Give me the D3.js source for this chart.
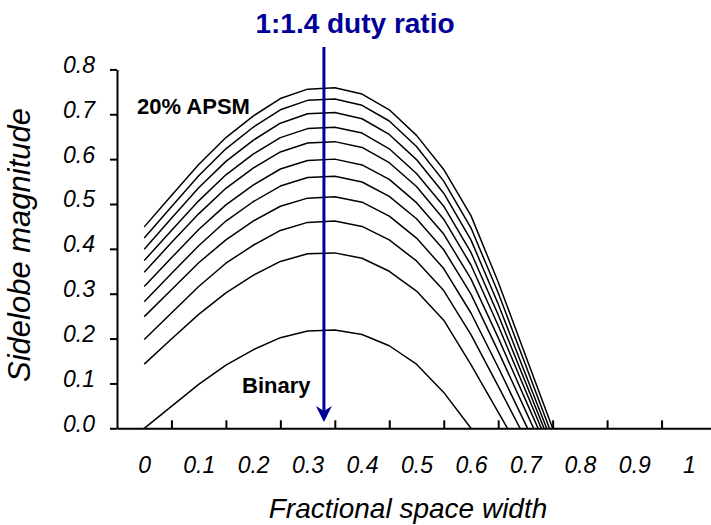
<!DOCTYPE html>
<html>
<head>
<meta charset="utf-8">
<script src="https://cdn.jsdelivr.net/npm/d3@7"></script>
<style>
  html, body { margin: 0; padding: 0; background: #fff; }
  svg { display: block; }
  text { font-family: "Liberation Sans", Arial, Helvetica, sans-serif; }
</style>
</head>
<body>
<svg id="chart" width="711" height="525"></svg>
<script>
// ---------- data ----------
const xValues = [0, 0.05, 0.1, 0.15, 0.2, 0.25, 0.3, 0.35, 0.4, 0.45, 0.5, 0.55, 0.6, 0.65, 0.7, 0.75];
const xTickLabels = ["0", "0.1", "0.2", "0.3", "0.4", "0.5", "0.6", "0.7", "0.8", "0.9", "1"];
const xTickLabelValues = [0, 0.1, 0.2, 0.3, 0.4, 0.5, 0.6, 0.7, 0.8, 0.9, 1.0];
const xTickMarkValues = [0.05, 0.15, 0.25, 0.35, 0.45, 0.55, 0.65, 0.75, 0.85, 0.95];
const yTickValues = [0, 0.1, 0.2, 0.3, 0.4, 0.5, 0.6, 0.7, 0.8];
const yTickLabels = ["0.0", "0.1", "0.2", "0.3", "0.4", "0.5", "0.6", "0.7", "0.8"];

const binary  = [0.000, 0.049, 0.098, 0.141, 0.175, 0.202, 0.217, 0.219, 0.209, 0.184, 0.143, 0.080, 0.000];
const apsm02  = [0.143, 0.199, 0.254, 0.302, 0.341, 0.372, 0.389, 0.391, 0.379, 0.350, 0.306, 0.241, 0.142, 0.036, -0.070];
const apsm04  = [0.198, 0.257, 0.316, 0.368, 0.408, 0.441, 0.459, 0.462, 0.450, 0.420, 0.373, 0.307, 0.209, 0.094, -0.023];
const apsm06  = [0.249, 0.309, 0.369, 0.420, 0.462, 0.495, 0.513, 0.516, 0.504, 0.473, 0.424, 0.356, 0.257, 0.136, 0.010, -0.116];
const apsm08  = [0.282, 0.345, 0.407, 0.462, 0.505, 0.540, 0.559, 0.562, 0.549, 0.517, 0.467, 0.398, 0.299, 0.172, 0.040, -0.093];
const apsm10  = [0.316, 0.380, 0.443, 0.498, 0.542, 0.578, 0.597, 0.600, 0.587, 0.555, 0.503, 0.433, 0.333, 0.202, 0.064, -0.074];
const apsm12  = [0.348, 0.414, 0.478, 0.535, 0.580, 0.616, 0.636, 0.639, 0.626, 0.592, 0.539, 0.466, 0.364, 0.229, 0.085, -0.061];
const apsm14  = [0.374, 0.441, 0.507, 0.565, 0.611, 0.648, 0.668, 0.671, 0.658, 0.623, 0.568, 0.495, 0.392, 0.253, 0.103, -0.048];
const apsm16  = [0.399, 0.468, 0.536, 0.595, 0.642, 0.680, 0.701, 0.704, 0.690, 0.655, 0.599, 0.524, 0.420, 0.277, 0.121, -0.034];
const apsm18  = [0.424, 0.494, 0.563, 0.623, 0.671, 0.710, 0.731, 0.734, 0.720, 0.685, 0.628, 0.551, 0.447, 0.302, 0.142, -0.019];
const apsm20  = [0.449, 0.519, 0.588, 0.648, 0.696, 0.735, 0.756, 0.759, 0.745, 0.710, 0.653, 0.577, 0.474, 0.326, 0.163, 0.000];

const allSeries = [binary, apsm02, apsm04, apsm06, apsm08, apsm10, apsm12, apsm14, apsm16, apsm18, apsm20];

const arrowX = 0.33;
const titleText = "1:1.4 duty ratio";
const xTitle = "Fractional space width";
const yTitle = "Sidelobe magnitude";
const labelTop = "20% APSM";
const labelBottom = "Binary";

// ---------- layout ----------
const svg = d3.select("#chart");
const plotLeft = 117, plotRight = 716, plotTop = 69.4, plotBottom = 428.3;
const navy = "#000099";

const x = d3.scaleLinear().domain([-0.05, 1.05]).range([plotLeft, plotRight]);
const y = d3.scaleLinear().domain([0, 0.8]).range([plotBottom, plotTop]);

svg.append("defs").append("clipPath").attr("id", "plotClip")
  .append("rect").attr("x", plotLeft).attr("y", 0)
  .attr("width", plotRight - plotLeft).attr("height", plotBottom);

// curves
const line = d3.line().x((d, i) => x(xValues[i])).y(d => y(d));
svg.append("g").attr("clip-path", "url(#plotClip)")
  .selectAll("path").data(allSeries).join("path")
  .attr("d", d => line(d))
  .attr("fill", "none").attr("stroke", "#000").attr("stroke-width", 1.5)
  .attr("stroke-linejoin", "round");

// y axis
const yAxis = svg.append("g").attr("transform", `translate(${plotLeft},0)`)
  .call(d3.axisLeft(y).tickValues(yTickValues).tickSizeInner(7).tickSizeOuter(0)
    .tickFormat((d, i) => yTickLabels[i]));
yAxis.select(".domain").attr("stroke", "#000").attr("stroke-width", 2);
yAxis.selectAll(".tick line").attr("stroke", "#000").attr("stroke-width", 2);
yAxis.selectAll(".tick text")
  .attr("x", -22).attr("dy", null).attr("y", 3)
  .attr("font-size", 23).attr("font-style", "italic").attr("fill", "#000")
  .attr("text-anchor", "end").style("font-family", '"Liberation Sans", Arial, sans-serif');

// x axis: tick marks (inside, pointing up)
const xAxisMarks = svg.append("g").attr("transform", `translate(0,${plotBottom})`)
  .call(d3.axisBottom(x).tickValues(xTickMarkValues).tickSizeInner(-8).tickSizeOuter(0).tickFormat(""));
xAxisMarks.select(".domain").attr("stroke", "#000").attr("stroke-width", 2);
xAxisMarks.selectAll(".tick line").attr("stroke", "#000").attr("stroke-width", 2);

// x axis labels
const xAxisLabels = svg.append("g").attr("transform", `translate(0,${plotBottom})`)
  .call(d3.axisBottom(x).tickValues(xTickLabelValues).tickSize(0)
    .tickFormat((d, i) => xTickLabels[i]));
xAxisLabels.select(".domain").remove();
xAxisLabels.selectAll(".tick text")
  .attr("y", 45).attr("dy", null)
  .attr("font-size", 23).attr("font-style", "italic").attr("fill", "#000")
  .style("font-family", '"Liberation Sans", Arial, sans-serif');

// axis titles
svg.append("text").attr("x", 408).attr("y", 518)
  .attr("text-anchor", "middle").attr("font-size", 28).attr("font-style", "italic")
  .text(xTitle);
svg.append("text").attr("transform", "translate(30,245) rotate(-90)")
  .attr("text-anchor", "middle").attr("font-size", 31).attr("font-style", "italic")
  .text(yTitle);

// annotations
svg.append("text").attr("x", 137).attr("y", 114)
  .attr("font-size", 22).attr("font-weight", "bold").text(labelTop);
svg.append("text").attr("x", 242).attr("y", 393)
  .attr("font-size", 22).attr("font-weight", "bold").text(labelBottom);

// title
svg.append("text").attr("x", 355).attr("y", 33)
  .attr("text-anchor", "middle").attr("font-size", 28).attr("font-weight", "bold")
  .attr("fill", navy).text(titleText);

// arrow
const ax = x(arrowX);
svg.append("line").attr("x1", ax).attr("x2", ax).attr("y1", 47).attr("y2", 412)
  .attr("stroke", navy).attr("stroke-width", 3);
const tipY = 422;
svg.append("path")
  .attr("d", `M${ax},${tipY} L${ax - 8},${tipY - 16} L${ax},${tipY - 11} L${ax + 8},${tipY - 16} Z`)
  .attr("fill", navy);
</script>
</body>
</html>
